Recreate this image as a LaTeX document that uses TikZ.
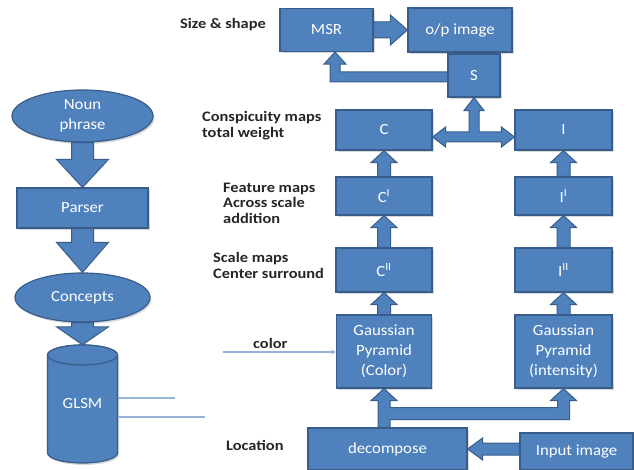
\documentclass[tikz,border=0pt]{standalone}
\usepackage{fontspec}
\setmainfont{Carlito}
\newfontfamily\lblfont[FakeStretch=1.13]{Carlito}
\newfontfamily\boxfont[FakeStretch=1.08]{Carlito}
\usetikzlibrary{calc,shapes.geometric,shadows,arrows.meta}
\definecolor{boxfill}{HTML}{4F81BD}
\definecolor{boxline}{HTML}{385D8A}
\definecolor{thinline}{HTML}{95B3D7}
\newcommand\barr[5]{%
  \coordinate (bB) at ($(#2)!#5!(#1)$);
  \draw[barrowst] ($(#1)!#3!90:(#2)$) -- ($(bB)!#3!90:(#2)$) -- ($(bB)!#4!90:(#2)$) -- (#2) -- ($(bB)!#4!-90:(#2)$) -- ($(bB)!#3!-90:(#2)$) -- ($(#1)!#3!-90:(#2)$) -- cycle;}
\tikzset{
  bx/.style={draw=boxline, line width=1.2pt, fill=boxfill, text=white,
    font=\boxfont\fontsize{15.5}{20}\selectfont, align=center, inner sep=0pt,
    drop shadow={shadow xshift=1.5pt, shadow yshift=-2pt, opacity=0.3}},
  elp/.style={bx, ellipse},
  sz/.style 2 args={minimum width=#1pt, minimum height=#2pt},
  lbl/.style={font=\lblfont\bfseries\fontsize{14.5}{15.5}\selectfont, text=black!85, align=left, anchor=west, inner sep=0pt},
  barrowst/.style={draw=boxline, line width=1pt, fill=boxfill, line join=miter},
  thinconn/.style={draw=thinline, line width=1.5pt}
}
\begin{document}
\begin{tikzpicture}[x=1pt,y=-1pt]
\useasboundingbox (0,0) rectangle (634,470);
\fill[white] (0,0) rectangle (634,470);

% right column nodes
\node[bx, sz={93}{43}] (msr) at (326.5,30) {MSR};
\node[bx, sz={104}{44}] (op) at (460,30) {o/p image};
\node[bx, sz={96}{40}] (c) at (384,130) {C};
\node[bx, sz={97}{40}] (i) at (563.5,130) {I};
\node[bx, sz={96}{38}] (c1) at (384,196) {C\textsuperscript{I}};
\node[bx, sz={97}{38}] (i1) at (563.5,196) {I\textsuperscript{I}};
\node[bx, sz={96}{44}] (c2) at (384,270) {C\textsuperscript{II}};
\node[bx, sz={97}{44}] (i2) at (563.5,270) {I\textsuperscript{II}};
\node[bx, sz={95}{73}] (gpc) at (384,351.5) {Gaussian\\Pyramid\\(Color)};
\node[bx, sz={97}{73}] (gpi) at (563.5,351.5) {Gaussian\\Pyramid\\(intensity)};
\node[bx, sz={159}{42}] (dec) at (387.5,449) {decompose};
\node[bx, sz={113}{37}] (inp) at (576.5,451.5) {Input image};

% S -> MSR L arrow (drawn before S)
\draw[barrowst] let \p1=(msr.south), \p2=(448,75.5) in
  (\x2+2pt,\y2+3.5pt) -- (\x1+13.5pt,\y2+3.5pt) -- (\x1+13.5pt,\y1-12pt) -- (\x1+19.5pt,\y1-12pt) -- (\x1+8.5pt,\y1) -- (\x1-2.5pt,\y1-12pt) -- (\x1+3.5pt,\y1-12pt) -- (\x1+3.5pt,\y2-6.5pt) -- (\x2+2pt,\y2-6.5pt) -- cycle;
\node[bx, sz={52}{43}] (s) at (474,75.5) {S};

% left column
\node[elp, sz={141}{52}] (np) at (82.5,116) {Noun\\phrase};
\node[bx, sz={131}{40}] (par) at (82.5,208) {Parser};
\node[elp, sz={135}{49}] (con) at (82.5,297.5) {Concepts};
\path[draw=boxline, line width=1.2pt, fill=boxfill, drop shadow={shadow xshift=1.5pt, shadow yshift=-2pt, opacity=0.3}]
  (47.5,355) -- (47.5,453) arc[start angle=180, end angle=360, x radius=35pt, y radius=10pt]
  -- (117.5,355) arc[start angle=0, end angle=180, x radius=35pt, y radius=10pt] -- cycle;
\draw[draw=boxline, line width=1.2pt, fill=boxfill] (82.5,355) ellipse [x radius=35pt, y radius=10pt];
\node[inner sep=0pt, sz={70}{118}, text=white, font=\boxfont\fontsize{15.5}{20}\selectfont] (glsm) at (82.5,404) {GLSM};

% block arrows
\barr{np.south}{par.north}{11pt}{26pt}{28pt}
\barr{par.south}{con.north}{11pt}{26pt}{30pt}
\barr{con.south}{glsm.north}{11pt}{26pt}{18pt}
\barr{msr.east}{op.west}{8pt}{15pt}{17pt}
\barr{c2.north}{c1.south}{6.5pt}{13pt}{12pt}
\barr{c1.north}{c.south}{6.5pt}{13pt}{12pt}
\barr{i2.north}{i1.south}{6.5pt}{13pt}{12pt}
\barr{i1.north}{i.south}{6.5pt}{13pt}{12pt}
\barr{gpc.north}{c2.south}{6.5pt}{13pt}{12pt}
\barr{gpi.north}{i2.south}{6.5pt}{13pt}{12pt}
\coordinate (ie) at (inp.west |- dec.east);
\barr{ie}{dec.east}{6pt}{11pt}{15pt}

% decompose -> both pyramids
\draw[barrowst] let \p1=(gpc.south), \p2=(gpi.south), \p3=(dec.north) in
 (\x1-6pt,\y3) -- (\x1-6pt,\y1-12pt) -- (\x1-13pt,\y1-12pt) -- (\x1,\y1) -- (\x1+13pt,\y1-12pt) -- (\x1+6pt,\y1-12pt) -- (\x1+6pt,\y1-19pt) -- (\x2-6pt,\y1-19pt) -- (\x2-6pt,\y1-12pt) -- (\x2-13pt,\y1-12pt) -- (\x2,\y1) -- (\x2+13pt,\y1-12pt) -- (\x2+6pt,\y1-12pt) -- (\x2+6pt,\y1-31pt) -- (\x1+6pt,\y1-31pt) -- (\x1+6pt,\y3) -- cycle;

% C <-> I with stem to S
\draw[barrowst] let \p1=(c.east), \p2=(i.west), \p3=(s.south) in
 (\x1,\y1-7pt) -- (\x1+13pt,\y1+3pt) -- (\x1+13pt,\y1-2pt) -- (\x3-5pt,\y1-2pt) -- (\x3-5pt,\y3-13pt) -- (\x3-10pt,\y3-13pt) -- (\x3,\y3) -- (\x3+10pt,\y3-13pt) -- (\x3+5pt,\y3-13pt) -- (\x3+5pt,\y1-2pt) -- (\x2-13pt,\y1-2pt) -- (\x2-13pt,\y1+3pt) -- (\x2,\y1-7pt) -- (\x2-13pt,\y1-17pt) -- (\x2-13pt,\y1-12pt) -- (\x1+13pt,\y1-12pt) -- (\x1+13pt,\y1-17pt) -- cycle;

% thin connectors
\coordinate (colsrc) at (223,352);
\draw[thinconn, -{Stealth[length=5pt,width=5pt]}] (colsrc) -- (colsrc -| gpc.west);
\coordinate (g1) at (175,398);
\coordinate (g2) at (205,417);
\draw[thinconn] (g1 -| glsm.east) -- (g1);
\draw[thinconn] (g2 -| glsm.east) -- (g2);

% labels
\node[lbl] (lsize) at (180,25) {Size \& shape};
\node[lbl] (lcons) at (202,125.5) {Conspicuity maps\\total weight};
\node[lbl] (lfeat) at (223,203) {Feature maps\\Across scale\\addition};
\node[lbl] (lscale) at (213,265.5) {Scale maps\\Center surround};
\node[lbl] (lcol) at (253,343) {color};
\node[lbl] (lloc) at (226,445) {Location};
\end{tikzpicture}
\end{document}
